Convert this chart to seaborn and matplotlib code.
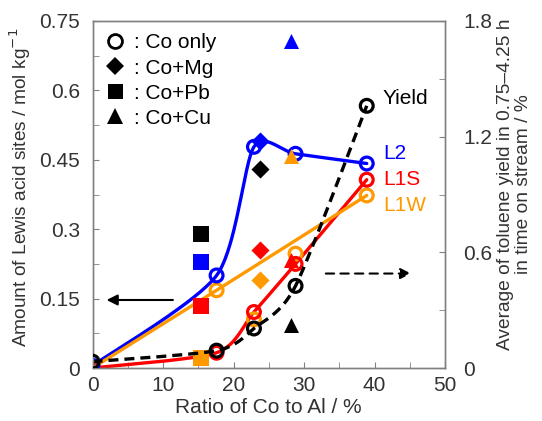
import numpy as np
import pandas as pd
import matplotlib
matplotlib.use("Agg")
import matplotlib.pyplot as plt
from matplotlib.lines import Line2D
import seaborn as sns

# Co/Al ratio (%) of the Co-only catalysts
co_ratio = [0, 17.6, 22.9, 28.8, 38.9]

# Lewis acid sites (mol/kg), Co only
lewis_L2 = [0.005, 0.200, 0.478, 0.463, 0.442]
lewis_L1S = [0.0, 0.033, 0.121, 0.225, 0.407]
lewis_L1W = [0.0, 0.168, 0.105, 0.247, 0.373]

# toluene yield (%), Co only
yield_co = [0.033, 0.09, 0.205, 0.426, 1.36]

# L1W line is drawn straight through these
l1w_line_x = [0, 17.6, 38.9]
l1w_line_y = [0.0, 0.168, 0.373]

# second metal added: Pb, Mg, Cu
mod_ratio = {"Pb": 15.4, "Mg": 23.8, "Cu": 28.2}
mod_L2 = {"Pb": 0.229, "Mg": 0.49, "Cu": 0.707}
mod_L1S = {"Pb": 0.134, "Mg": 0.254, "Cu": 0.233}
mod_L1W = {"Pb": 0.021, "Mg": 0.19, "Cu": 0.459}
mod_yield = {"Pb": 0.693, "Mg": 1.033, "Cu": 0.222}

mod_marker = {"Mg": "D", "Pb": "s", "Cu": "^"}
mod_size = {"Mg": 85, "Pb": 117, "Cu": 117}

BLUE, RED, ORANGE, BLACK = "#0000FF", "#FF0000", "#FF9900", "#000000"
TXT = "#333333"
FS = 15
FS_YLAB = 13.8

sns.set_style("white")
plt.rcParams["font.family"] = ["Liberation Sans", "DejaVu Sans"]
plt.rcParams["text.color"] = TXT
plt.rcParams["axes.labelcolor"] = TXT
plt.rcParams["xtick.color"] = TXT
plt.rcParams["ytick.color"] = TXT
plt.rcParams["font.size"] = FS


def smooth(ax, xs, ys, tension=0.75, n=40):
    # cardinal spline through the points, worked out in display space
    pts = ax.transData.transform(np.column_stack([xs, ys]))
    P = np.vstack([pts[0], pts, pts[-1]])
    t = np.linspace(0, 1, n)[:, None]
    h00 = 2 * t ** 3 - 3 * t ** 2 + 1
    h10 = t ** 3 - 2 * t ** 2 + t
    h01 = -2 * t ** 3 + 3 * t ** 2
    h11 = t ** 3 - t ** 2
    segs = []
    for i in range(1, len(P) - 2):
        p0, p1, p2, p3 = P[i - 1], P[i], P[i + 1], P[i + 2]
        m1 = tension * (p2 - p0) / 2
        m2 = tension * (p3 - p1) / 2
        segs.append(h00 * p1 + h10 * m1 + h01 * p2 + h11 * m2)
    out = ax.transData.inverted().transform(np.vstack(segs))
    return out[:, 0], out[:, 1]


fig = plt.figure(figsize=(5.42, 4.21), dpi=100)
ax = fig.add_axes([92.5 / 542, 53 / 421, 352.5 / 542, 347 / 421])
ax2 = ax.twinx()

ax.set_xlim(0, 50)
ax.set_ylim(0, 0.75)
ax2.set_ylim(0, 1.8)

# curves
for yv, c in [(lewis_L2, BLUE), (lewis_L1S, RED)]:
    sx, sy = smooth(ax, co_ratio, yv)
    sns.lineplot(x=sx, y=sy, sort=False, estimator=None, color=c, lw=2.4, ax=ax, zorder=2)
sns.lineplot(x=l1w_line_x, y=l1w_line_y, sort=False, estimator=None, color=ORANGE, lw=2.4, ax=ax, zorder=2)

# Co-only open circles
for yv, c in [(lewis_L1W, ORANGE), (lewis_L1S, RED), (lewis_L2, BLUE)]:
    sns.scatterplot(x=co_ratio, y=yv, marker="o", s=85, color=c, facecolor="none",
                    edgecolor=c, linewidth=2.3, ax=ax, zorder=3)

# modified catalysts, filled markers
for key in ["Pb", "Mg", "Cu"]:
    for d, c in [(mod_L2, BLUE), (mod_L1S, RED), (mod_L1W, ORANGE)]:
        sns.scatterplot(x=[mod_ratio[key]], y=[d[key]], marker=mod_marker[key],
                        s=mod_size[key], color=c, linewidth=0, ax=ax, zorder=4)
    sns.scatterplot(x=[mod_ratio[key]], y=[mod_yield[key]], marker=mod_marker[key],
                    s=mod_size[key], color=BLACK, linewidth=0, ax=ax2, zorder=4)

# yield curve (right axis)
sx, sy = smooth(ax2, co_ratio, yield_co)
ax2.plot(sx, sy, color=BLACK, lw=2.4, dashes=(3, 1.8), zorder=2)
sns.scatterplot(x=co_ratio, y=yield_co, marker="o", s=85, color=BLACK, facecolor="none",
                edgecolor=BLACK, linewidth=2.3, ax=ax2, zorder=3)

# arrows
ax.annotate("", xy=(1.6, 0.147), xytext=(11.8, 0.147),
            arrowprops=dict(arrowstyle="-|>", color=BLACK, lw=1.5, mutation_scale=16))
ax2.annotate("", xy=(45.6, 0.49), xytext=(32.7, 0.49),
             arrowprops=dict(arrowstyle="-|>", color=BLACK, lw=1.5, mutation_scale=16,
                             linestyle=(0, (4, 3))))

# series labels
ax2.text(41.2, 1.40, "Yield", color=BLACK, va="center", fontsize=FS)
ax.text(41.2, 0.463, "L2", color=BLUE, va="center", fontsize=FS)
ax.text(41.2, 0.407, "L1S", color=RED, va="center", fontsize=FS)
ax.text(41.2, 0.352, "L1W", color=ORANGE, va="center", fontsize=FS)

# ticks
ax.set_xticks(range(0, 51, 10))
ax.set_xticks(range(0, 51, 5), minor=True)
ax.set_yticks([0, 0.15, 0.3, 0.45, 0.6, 0.75])
ax.set_yticklabels(["0", "0.15", "0.3", "0.45", "0.6", "0.75"])
ax.set_yticks(np.arange(0, 0.76, 0.075), minor=True)
ax2.set_yticks([0, 0.6, 1.2, 1.8])
ax2.set_yticklabels(["0", "0.6", "1.2", "1.8"])
ax2.set_yticks(np.arange(0, 1.81, 0.3), minor=True)

ax.tick_params(axis="both", which="both", direction="in", length=4, color="#808080",
               labelsize=FS, left=True, bottom=True, right=False, top=False)
ax.tick_params(axis="y", pad=9)
ax.tick_params(axis="x", pad=6)
ax2.tick_params(axis="y", which="both", direction="in", length=4, color="#808080",
                labelsize=FS, right=True, pad=13)

for a in (ax, ax2):
    for sp in a.spines.values():
        sp.set_color("#808080")
        sp.set_linewidth(1.0)

ax.set_xlabel("Ratio of Co to Al / %", fontsize=FS, labelpad=2)
ax.set_ylabel("Amount of Lewis acid sites / mol kg$^{-1}$", fontsize=FS_YLAB)
ax2.set_ylabel("Average of toluene yield in 0.75\u20134.25 h\nin time on stream / %",
               fontsize=FS_YLAB, linespacing=1.05)
ax.yaxis.set_label_coords(-0.17, 0.52)
ax2.yaxis.set_label_coords(1.148, 0.53)

# legend
handles = [
    Line2D([], [], ls="none", marker="o", ms=10, mfc="none", mec=BLACK, mew=2.0),
    Line2D([], [], ls="none", marker="D", ms=9.5, mfc=BLACK, mec=BLACK, mew=0),
    Line2D([], [], ls="none", marker="s", ms=10.8, mfc=BLACK, mec=BLACK, mew=0),
    Line2D([], [], ls="none", marker="^", ms=11, mfc=BLACK, mec=BLACK, mew=0),
]
labels = [": Co only", ": Co+Mg", ": Co+Pb", ": Co+Cu"]
leg = ax2.legend(handles, labels, loc="upper left", frameon=False, fontsize=FS,
                 handlelength=1.0, handletextpad=0.4, labelspacing=0.29,
                 borderaxespad=0.2, borderpad=0.4)
for t in leg.get_texts():
    t.set_color(BLACK)

fig.savefig("out.png", dpi=100)
